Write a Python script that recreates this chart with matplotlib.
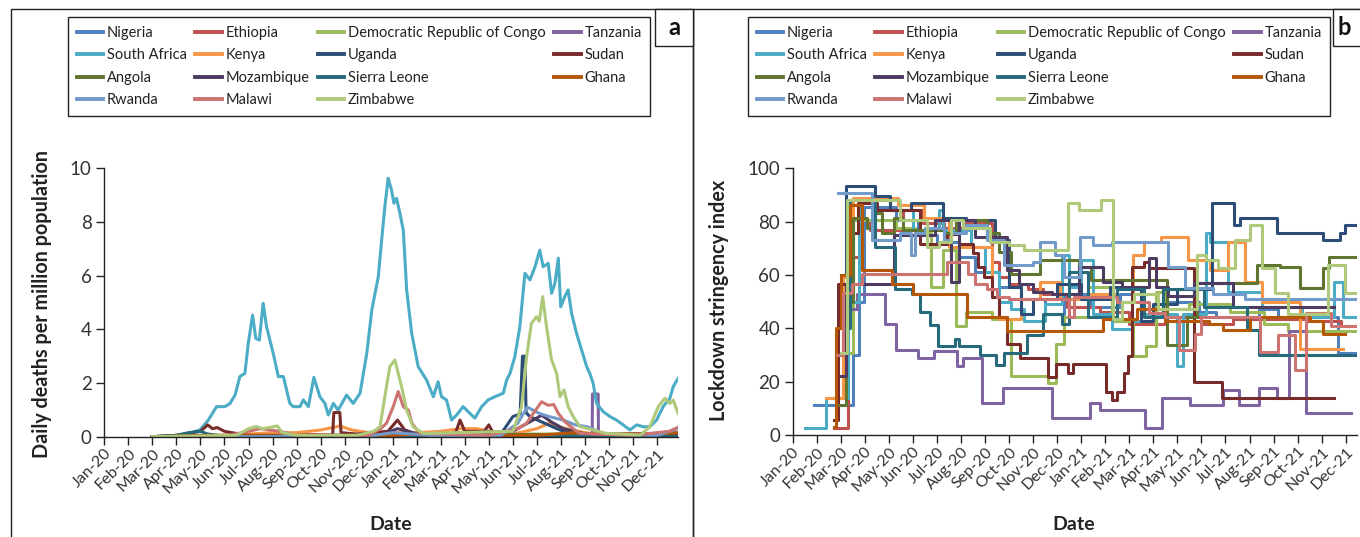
import matplotlib
matplotlib.use('Agg')
import matplotlib.pyplot as plt
from matplotlib.patches import Rectangle
from matplotlib.lines import Line2D

plt.rcParams['font.family'] = ['Lato', 'DejaVu Sans']

W, H = 1360, 537

month_names = ['Jan', 'Feb', 'Mar', 'Apr', 'May', 'Jun',
               'Jul', 'Aug', 'Sep', 'Oct', 'Nov', 'Dec']
tick_labels = [f'{m}-{y}' for y in ('20', '21') for m in month_names]

countries = ['Nigeria', 'Ethiopia', 'Democratic Republic of Congo', 'Tanzania',
             'South Africa', 'Kenya', 'Uganda', 'Sudan',
             'Angola', 'Mozambique', 'Sierra Leone', 'Ghana',
             'Rwanda', 'Malawi', 'Zimbabwe']
colors = ['#4F81BD', '#C0504D', '#9BBB59', '#8064A2',
          '#4BACC6', '#F79646', '#2C4D75', '#772C2A',
          '#5F7530', '#4D3B62', '#276A7C', '#B65708',
          '#729ACA', '#CD7371', '#AFC97A']

# daily deaths per million: (month since Jan 2020, value)
deaths_nigeria = [(2.0, 0), (4, 0.02), (6, 0.05), (8, 0.02), (12, 0.05), (13, 0.05),
                  (16, 0.01), (19, 0.03), (23.87, 0.01)]
deaths_ethiopia = [(2.0, 0), (6, 0.05), (8, 0.1), (10, 0.05), (12, 0.05), (14, 0.1),
                   (15.5, 0.2), (16.5, 0.1), (19, 0.05), (22, 0.1), (23.87, 0.15)]
deaths_drc = [(2.0, 0), (6, 0.01), (12, 0.05), (17.5, 0.1), (18.5, 0.1), (23.87, 0.02)]
deaths_tanzania = [(2.0, 0), (20.3, 0.01), (20.31, 1.59), (20.55, 1.59), (20.56, 0.01),
                   (23.87, 0)]
deaths_south_africa = [
    (2.0, 0), (3.0, 0.05), (3.5, 0.12), (3.98, 0.25), (4.33, 0.62), (4.67, 1.12),
    (5.02, 1.12), (5.23, 1.24), (5.44, 1.55), (5.64, 2.24), (5.85, 2.36), (5.99, 3.48),
    (6.17, 4.53), (6.30, 3.67), (6.45, 3.6), (6.61, 4.97), (6.75, 4.1), (6.89, 3.6),
    (7.03, 3.1), (7.24, 2.24), (7.45, 2.24), (7.72, 1.24), (7.86, 1.12), (8.14, 1.12),
    (8.28, 1.37), (8.49, 1.12), (8.72, 2.21), (8.97, 1.49), (9.18, 1.24), (9.32, 0.81),
    (9.53, 1.24), (9.73, 0.99), (10.08, 1.55), (10.36, 1.24), (10.64, 1.62), (10.92, 3.1),
    (11.13, 4.72), (11.40, 5.96), (11.54, 7.33), (11.68, 8.63), (11.81, 9.63),
    (11.95, 9.19), (12.05, 8.70), (12.16, 8.88), (12.30, 8.32), (12.44, 7.70),
    (12.58, 5.47), (12.79, 3.85), (13.06, 2.61), (13.41, 2.11), (13.69, 1.49),
    (13.89, 2.05), (14.03, 1.49), (14.24, 1.37), (14.45, 0.62), (14.66, 0.81),
    (14.93, 1.12), (15.14, 0.93), (15.42, 0.69), (15.70, 1.12), (15.97, 1.37),
    (16.25, 1.49), (16.60, 1.62), (16.74, 2.11), (16.88, 2.36), (17.08, 2.98),
    (17.29, 4.10), (17.50, 6.09), (17.71, 5.84), (17.92, 6.33), (18.12, 6.95),
    (18.26, 6.33), (18.47, 6.46), (18.61, 5.34), (18.75, 5.72), (18.89, 6.65),
    (18.99, 4.84), (19.16, 5.22), (19.30, 5.47), (19.44, 4.60), (19.65, 3.85),
    (19.86, 3.23), (20.07, 2.61), (20.20, 2.36), (20.34, 1.99), (20.48, 1.24),
    (20.76, 0.93), (21.04, 0.75), (21.31, 0.62), (21.59, 0.44), (21.87, 0.25),
    (22.15, 0.44), (22.42, 0.37), (22.70, 0.37), (22.98, 0.62), (23.25, 1.12),
    (23.53, 1.43), (23.67, 1.86), (23.87, 2.17)]
deaths_kenya = [(2.0, 0), (4, 0.02), (6, 0.1), (7, 0.15), (8, 0.15), (9, 0.25), (9.8, 0.4),
                (10.3, 0.25), (11, 0.15), (12, 0.15), (13, 0.15), (14, 0.2), (14.8, 0.3),
                (15.5, 0.3), (16, 0.2), (17, 0.1), (18, 0.3), (18.5, 0.5), (19, 0.35),
                (20, 0.15), (21, 0.05), (23.87, 0.02)]
deaths_uganda = [(2.0, 0), (6, 0), (12, 0.05), (14, 0.02), (16.5, 0.1), (17.0, 0.75),
                 (17.3, 0.85), (17.4, 3.0), (17.5, 3.0), (17.55, 0.9), (17.7, 0.75),
                 (18.2, 0.55), (18.7, 0.35), (19.1, 0.2), (20, 0.05), (23.87, 0.01)]
deaths_sudan = [(2.0, 0), (3, 0.05), (4.0, 0.2), (4.3, 0.44), (4.5, 0.3), (4.7, 0.34),
                (5.0, 0.2), (5.5, 0.12), (6, 0.05), (9.5, 0.05), (9.55, 0.9), (9.8, 0.9),
                (9.85, 0.15), (10.5, 0.1), (11.8, 0.2), (12.2, 0.62), (12.5, 0.25),
                (13, 0.1), (14.6, 0.1), (14.8, 0.62), (15, 0.2), (15.8, 0.2), (16.0, 0.44),
                (16.2, 0.1), (19, 0.05), (22, 0.1), (23.87, 0.1)]
deaths_angola = [(2.0, 0), (6, 0.02), (10, 0.05), (13, 0.05), (15.5, 0.15), (16, 0.2),
                 (16.5, 0.1), (19, 0.05), (21, 0.05), (23.87, 0.02)]
deaths_mozambique = [(2.0, 0), (10, 0.01), (11.5, 0.05), (12.2, 0.3), (12.8, 0.15),
                     (13.5, 0.05), (17, 0.2), (17.8, 0.6), (18.2, 0.8), (18.6, 0.55),
                     (19.1, 0.3), (20, 0.1), (21, 0.02), (23.87, 0.02)]
deaths_sierra_leone = [(2.0, 0), (3, 0.05), (3.5, 0.15), (4.0, 0.2), (4.3, 0.1), (5, 0.02),
                       (12, 0.01), (18, 0.03), (23.87, 0)]
deaths_ghana = [(2.0, 0), (4, 0.05), (6, 0.05), (7, 0.03), (12, 0.05), (13, 0.1),
                (14, 0.05), (18, 0.05), (19.5, 0.15), (20.5, 0.1), (23, 0.1), (23.87, 0.15)]
deaths_rwanda = [(2.0, 0), (6, 0), (11, 0.02), (12, 0.15), (12.8, 0.1), (14, 0.02),
                 (16.5, 0.05), (17.2, 0.5), (17.6, 1.1), (18.1, 0.87), (18.5, 0.75),
                 (19.1, 0.62), (19.6, 0.44), (20.1, 0.37), (20.8, 0.1), (23, 0.05),
                 (23.87, 0.3)]
deaths_malawi = [(2.0, 0), (5, 0.02), (6, 0.2), (6.5, 0.3), (7.3, 0.2), (8, 0.05),
                 (11, 0.05), (11.5, 0.3), (11.74, 0.5), (12.02, 1.12), (12.23, 1.68),
                 (12.44, 1.12), (12.65, 0.99), (12.8, 0.5), (13.13, 0.12), (16, 0.05),
                 (17.2, 0.3), (17.57, 0.5), (17.85, 0.87), (18.05, 1.12), (18.19, 1.3),
                 (18.47, 1.17), (18.7, 1.2), (18.89, 0.87), (19.16, 0.56), (19.58, 0.25),
                 (19.8, 0.12), (22, 0.05), (23.5, 0.2), (23.87, 0.35)]
deaths_zimbabwe = [(2.0, 0), (5.5, 0.05), (6.0, 0.3), (6.3, 0.38), (6.6, 0.3), (6.9, 0.35),
                   (7.2, 0.4), (7.4, 0.15), (8, 0.05), (10.5, 0.05), (11.2, 0.2),
                   (11.47, 0.37), (11.74, 1.86), (11.88, 2.61), (12.09, 2.86), (12.37, 1.86),
                   (12.58, 0.99), (12.85, 0.37), (13.27, 0.12), (17.0, 0.2), (17.36, 1.12),
                   (17.57, 2.98), (17.77, 4.22), (17.98, 4.47), (18.1, 4.3), (18.24, 5.22),
                   (18.4, 4.10), (18.61, 2.86), (18.82, 2.36), (18.96, 1.49), (19.13, 1.74),
                   (19.30, 1.12), (19.51, 0.75), (19.79, 0.37), (20.34, 0.25), (20.9, 0.12),
                   (22.3, 0.06), (22.7, 0.37), (23.05, 1.12), (23.32, 1.43), (23.53, 1.24),
                   (23.67, 1.37), (23.87, 0.87)]

# stringency index, change points held until the next one
index_nigeria = [(0.9, 11.1), (2.5, 30), (2.75, 50), (2.95, 85.6), (4.3, 80.6), (5.2, 75.0),
                 (6.0, 72.2), (6.9, 66.7), (7.6, 61.1), (8.6, 55.6), (9.5, 50.9),
                 (10.5, 45.4), (11.3, 52.8), (12.4, 48.1), (13.6, 52.8), (14.5, 47.2),
                 (15.5, 50.0), (16.9, 46.3), (17.6, 44.4), (19.4, 47.2), (20.2, 44.4),
                 (22.7, 30.6), (23.47, 30.6)]
index_ethiopia = [(1.7, 2.8), (2.3, 48), (2.5, 66.7), (2.85, 80.6), (3.2, 76.9), (4.6, 84.3),
                  (5.4, 79.6), (6.3, 77.8), (7.2, 79.6), (8.3, 64.8), (8.6, 59.3),
                  (9.0, 56.5), (9.8, 54.6), (10.4, 52.8), (11.4, 48.1), (12.8, 46.3),
                  (14.0, 41.7), (15.5, 44.4), (17.0, 41.7), (18.3, 43.5), (21.4, 42.6),
                  (22.8, 40.7), (23.47, 40.7)]
index_drc = [(2.2, 30.6), (2.5, 80.6), (4.3, 77.8), (5.1, 75.9), (5.75, 55.6), (6.25, 69.4),
             (6.8, 40.7), (7.2, 46.3), (8.3, 43.5), (9.1, 22.2), (10.6, 19.4), (10.95, 34.3),
             (11.3, 44.4), (12.3, 55.6), (13.3, 42.6), (14.15, 29.6), (14.7, 33.3),
             (15.1, 53.7), (15.5, 47.2), (16.5, 49.1), (18.2, 46.3), (19.6, 41.7),
             (20.6, 38.9), (23.47, 38.9)]
index_tanzania = [(2.3, 47.2), (2.66, 52.8), (3.84, 41.7), (4.3, 31.9), (5.22, 28.7),
                  (5.87, 31.5), (6.82, 25.9), (7.1, 28.7), (7.86, 12.0), (8.76, 17.6),
                  (10.77, 6.5), (12.37, 12.0), (12.79, 9.3), (14.65, 2.8), (15.35, 13.9),
                  (16.53, 11.1), (17.91, 16.7), (18.58, 11.1), (19.41, 17.6), (20.16, 13.9),
                  (20.66, 38.9), (21.35, 8.3), (23.2, 8.3)]
index_south_africa = [(0.5, 2.8), (1.4, 13.9), (2.3, 50), (2.75, 88.0), (4.05, 84.3),
                      (5.0, 76.9), (6.1, 84.3), (6.25, 76.9), (7.4, 70.4), (8.0, 61.1),
                      (8.6, 50.0), (9.1, 47.2), (9.6, 42.6), (10.5, 49.1), (11.2, 67.6),
                      (11.5, 55.6), (12.0, 65.7), (12.5, 45.4), (13.3, 39.8), (14.1, 42.6),
                      (14.5, 45.4), (16.0, 25.9), (16.25, 45.4), (17.2, 75.9), (17.35, 72.2),
                      (18.1, 53.7), (19.5, 48.1), (21.2, 44.4), (22.5, 57.4), (22.9, 44.4),
                      (23.47, 44.4)]
index_kenya = [(1.4, 13.9), (2.1, 59.3), (2.5, 88.9), (4.4, 86.1), (5.45, 81.5), (6.5, 70.4),
               (8.3, 51.9), (8.6, 43.5), (9.5, 50.9), (10.3, 57.4), (11.1, 50.9),
               (12.4, 52.8), (13.5, 50.0), (14.15, 67.6), (14.6, 72.2), (15.3, 74.1),
               (16.45, 65.7), (17.35, 62.0), (18.1, 72.2), (18.8, 57.4), (19.5, 50.0),
               (21.1, 32.4), (22.9, 32.4)]
index_uganda = [(2.0, 60), (2.22, 93.5), (3.42, 89.8), (4.05, 84.3), (4.9, 87.0), (6.27, 81.5),
                (7.2, 80.6), (8.4, 73.1), (9.0, 55.6), (9.5, 45.4), (10.0, 50.9), (11.0, 56.5),
                (12.0, 50.9), (13.2, 55.6), (14.5, 42.6), (15.0, 49.1), (16.0, 54.6),
                (17.43, 87.0), (18.36, 78.7), (18.6, 81.5), (20.16, 75.9), (22.07, 73.1),
                (22.76, 75.9), (22.97, 78.7), (23.47, 78.7)]
index_sudan = [(1.7, 5.6), (1.9, 56.5), (2.4, 75.9), (2.7, 87.0), (3.5, 84.3), (5.3, 71.8),
               (6.4, 75.5), (6.9, 71.8), (7.5, 68.1), (7.7, 63.0), (7.95, 59.3), (8.3, 51.9),
               (8.6, 44.4), (8.9, 34.3), (9.45, 28.7), (10.6, 21.8), (10.95, 26.8),
               (11.45, 23.1), (11.65, 26.8), (13.05, 16.2), (13.3, 13.0), (13.5, 16.2),
               (13.8, 23.1), (13.95, 29.6), (14.1, 63.0), (14.6, 65.0), (14.8, 62.5),
               (16.7, 20.0), (17.85, 13.9), (22.5, 13.9)]
index_angola = [(1.8, 11.1), (2.2, 50), (2.5, 81.5), (3.1, 77.8), (3.4, 83.3), (3.7, 75.9),
                (4.2, 81.5), (4.6, 76.9), (6.3, 75.9), (6.8, 80.6), (8.1, 75.9), (8.6, 68.5),
                (9.1, 60.2), (10.3, 65.7), (11.9, 63.0), (12.4, 58.3), (14.3, 58.3),
                (15.56, 33.8), (16.4, 44.4), (16.8, 56.9), (19.3, 63.9), (20.27, 63.0),
                (21.1, 55.1), (22.07, 62.5), (22.3, 66.7), (23.4, 66.7)]
index_mozambique = [(2.0, 22), (2.2, 56.5), (4.2, 75.0), (5.9, 80.6), (6.6, 57.4), (6.9, 80.6),
                    (7.6, 74.1), (8.9, 62.0), (9.4, 56.5), (10.0, 53.7), (10.8, 52.8),
                    (11.9, 63.0), (12.9, 57.4), (13.7, 55.6), (14.8, 66.2), (15.1, 55.6),
                    (15.6, 52.1), (16.7, 56.9), (18.3, 48.1), (22.5, 48.1)]
index_sierra_leone = [(2.1, 40), (2.4, 88.0), (3.42, 70.4), (4.26, 54.6), (4.95, 52.8),
                      (5.3, 46.3), (5.7, 41.2), (6.05, 33.3), (6.75, 36.1), (6.9, 33.3),
                      (7.8, 30.1), (8.45, 26.4), (8.8, 30.6), (9.75, 37.5), (10.4, 45.4),
                      (11.2, 41.7), (11.5, 61.1), (12.3, 44.4), (13.5, 54.6), (14.6, 44.4),
                      (15.4, 54.6), (17.1, 48.1), (18.9, 39.4), (19.4, 30.0), (23.47, 30.0)]
index_ghana = [(1.7, 3), (1.8, 40), (2.0, 60), (2.4, 86.1), (2.87, 62.0), (4.12, 56.5),
               (5.02, 52.8), (7.25, 44.4), (8.9, 38.9), (12.9, 43.5), (14.3, 47.2),
               (15.5, 42.6), (17.3, 41.7), (17.9, 39.4), (19.0, 44.4), (21.5, 42.6),
               (22.07, 38.0), (22.97, 38.0)]
index_rwanda = [(1.9, 90.7), (3.28, 73.1), (4.46, 75.9), (4.9, 67.6), (5.1, 75.9), (5.5, 77.8),
                (6.3, 73.1), (6.6, 75.9), (7.2, 78.7), (8.1, 73.1), (8.8, 63.9), (10.0, 64.8),
                (10.3, 72.2), (10.9, 67.6), (11.3, 59.3), (11.95, 74.1), (12.5, 71.3),
                (13.3, 72.2), (15.6, 63.0), (16.3, 55.1), (17.5, 52.8), (18.8, 50.9),
                (23.47, 50.9)]
index_malawi = [(1.85, 30), (2.1, 53.1), (2.45, 56.5), (2.9, 60.4), (6.4, 64.8), (7.3, 60.2),
                (7.6, 56.5), (8.1, 54.6), (8.5, 51.9), (9.0, 50.9), (11.5, 44.4), (11.7, 51.9),
                (13.5, 50.0), (14.8, 45.6), (15.5, 44.4), (16.05, 31.9), (16.75, 38.0),
                (17.0, 44.4), (19.45, 31.2), (20.2, 37.5), (20.9, 24.4), (21.35, 45.6),
                (22.4, 40.7), (23.47, 40.7)]
index_zimbabwe = [(2.0, 30.6), (2.25, 88.0), (4.45, 80.6), (5.6, 70.4), (6.1, 72.2),
                  (6.6, 80.6), (7.1, 77.8), (8.2, 72.2), (9.0, 71.3), (9.6, 69.4),
                  (11.47, 87.0), (11.9, 84.3), (12.81, 88.0), (13.31, 43.5), (13.7, 50.0),
                  (14.2, 52.8), (15.2, 47.2), (16.8, 67.6), (17.2, 65.7), (17.7, 62.5),
                  (18.4, 73.1), (19.0, 78.7), (19.5, 62.5), (20.05, 53.1), (20.6, 45.4),
                  (22.28, 63.9), (22.97, 53.1), (23.47, 53.1)]

deaths = [deaths_nigeria, deaths_ethiopia, deaths_drc, deaths_tanzania,
          deaths_south_africa, deaths_kenya, deaths_uganda, deaths_sudan,
          deaths_angola, deaths_mozambique, deaths_sierra_leone, deaths_ghana,
          deaths_rwanda, deaths_malawi, deaths_zimbabwe]
stringency = [index_nigeria, index_ethiopia, index_drc, index_tanzania,
              index_south_africa, index_kenya, index_uganda, index_sudan,
              index_angola, index_mozambique, index_sierra_leone, index_ghana,
              index_rwanda, index_malawi, index_zimbabwe]


def px_x(x):
    return x / W


def px_y(y):
    return 1 - y / H


def style_axis(ax, xmax, ymax, ystep):
    for side in ('top', 'right'):
        ax.spines[side].set_visible(False)
    for side in ('left', 'bottom'):
        ax.spines[side].set_color('#222222')
        ax.spines[side].set_linewidth(1.0)
    ax.set_xlim(0, xmax)
    ax.set_ylim(0, ymax)
    ax.set_xticks(range(24))
    ax.set_xticklabels(tick_labels, rotation=45, ha='right', va='top',
                       rotation_mode='anchor', fontsize=11.5, color='#333333')
    ax.set_yticks(range(0, ymax + 1, ystep))
    ax.tick_params(axis='both', direction='out', length=6, width=1, color='#222222')
    ax.tick_params(axis='x', pad=1)
    ax.tick_params(axis='y', labelsize=13.5, labelcolor='#333333', pad=3)
    ax.set_facecolor('none')


fig = plt.figure(figsize=(W / 100, H / 100), dpi=100)

# panel frames and corner labels
for x0, x1 in ((11, 693), (693, 1400)):
    fig.add_artist(Rectangle((px_x(x0), px_y(560)), (x1 - x0) / W, (560 - 9) / H,
                             transform=fig.transFigure, fill=False,
                             ec='#222222', lw=1.0))
for x0, x1, lab in ((655, 693, 'a'), (1333, 1400, 'b')):
    fig.add_artist(Rectangle((px_x(x0), px_y(46)), (x1 - x0) / W, 37 / H,
                             transform=fig.transFigure, fc='white',
                             ec='#222222', lw=1.0))
    fig.text(px_x(674 if lab == 'a' else 1344), px_y(28), lab, fontsize=17,
             fontweight='bold', ha='center', va='center', color='#111111')

ax_a = fig.add_axes([px_x(104.3), px_y(436.7), (678 - 104.3) / W, (436.7 - 168.3) / H])
ax_b = fig.add_axes([px_x(792.7), px_y(435), (1357 - 792.7) / W, (435 - 168.3) / H])

for series, col in zip(deaths, colors):
    xs = [p[0] for p in series]
    ys = [p[1] for p in series]
    ax_a.plot(xs, ys, color=col, lw=2.2, solid_joinstyle='round')

for series, col in zip(stringency, colors):
    xs = [p[0] for p in series]
    ys = [p[1] for p in series]
    ax_b.plot(xs, ys, color=col, lw=2.2, drawstyle='steps-post')

style_axis(ax_a, 23.87, 10, 2)
style_axis(ax_b, 23.47, 100, 20)

fig.text(px_x(42), px_y(304), 'Daily deaths per million population', rotation=90,
         ha='center', va='center', fontsize=14.2, fontweight='bold', color='#222222')
fig.text(px_x(719), px_y(300), 'Lockdown stringency index', rotation=90,
         ha='center', va='center', fontsize=14.2, fontweight='bold', color='#222222')
fig.text(px_x(391), px_y(525), 'Date', ha='center', va='center',
         fontsize=14, fontweight='bold', color='#222222')
fig.text(px_x(1074), px_y(525), 'Date', ha='center', va='center',
         fontsize=14, fontweight='bold', color='#222222')

# legends laid out row by row: matplotlib fills columns first
order = [0, 4, 8, 12, 1, 5, 9, 13, 2, 6, 10, 14, 3, 7, 11]
handles = [Line2D([], [], color=colors[i], lw=2.8) for i in order]
labels = [countries[i] for i in order]
for left in (68, 748):
    leg = fig.legend(handles, labels, loc='upper left',
                     bbox_to_anchor=(px_x(left), px_y(17)), ncol=4, fontsize=10.5,
                     frameon=True, fancybox=False, edgecolor='#222222', framealpha=1,
                     handlelength=1.8, handletextpad=0.25, columnspacing=0.6,
                     borderpad=0.6, labelspacing=0.58, borderaxespad=0)
    leg.get_frame().set_linewidth(1.0)
    for t in leg.get_texts():
        t.set_color('#222222')

fig.savefig('out.png', dpi=100)
